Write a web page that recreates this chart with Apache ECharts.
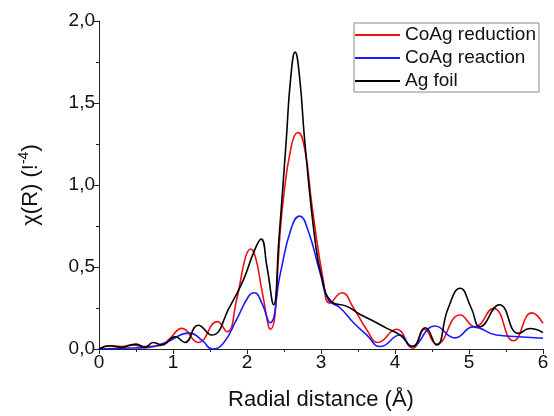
<!DOCTYPE html>
<html>
<head>
<meta charset="utf-8">
<script src="https://cdn.jsdelivr.net/npm/echarts@6/dist/echarts.min.js"></script>
<style>
  html, body { margin: 0; padding: 0; background: #fff; }
  #chart { width: 554px; height: 416px; }
</style>
</head>
<body>
<div id="chart"></div>
<script>
// [R (Å), chi(R)] pairs
const coagReduction = [
  [0, 0.0], [0.15, 0.02], [0.3, 0.015], [0.45, 0.025], [0.6, 0.015], [0.82, 0.02],
  [0.95, 0.06], [1.12, 0.126], [1.34, 0.04], [1.6, 0.167], [1.73, 0.105], [1.86, 0.3],
  [1.98, 0.56], [2.05, 0.61], [2.12, 0.55], [2.2, 0.36], [2.315, 0.12], [2.48, 0.868],
  [2.6, 1.24], [2.69, 1.32], [2.78, 1.22], [2.88, 0.868], [3.03, 0.42], [3.12, 0.28],
  [3.28, 0.343], [3.44, 0.25], [3.62, 0.116], [3.77, 0.04], [4.02, 0.12], [4.24, 0.005],
  [4.4, 0.12], [4.56, 0.03], [4.88, 0.207], [5.08, 0.136], [5.33, 0.248], [5.6, 0.05],
  [5.85, 0.22], [6.0, 0.157]
];

const coagReaction = [
  [0, 0.0], [0.3, 0.005], [0.67, 0.01], [0.9, 0.04], [1.22, 0.097], [1.4, 0.05],
  [1.53, 0.0], [1.68, 0.035], [1.86, 0.18], [2.02, 0.32], [2.1, 0.343], [2.2, 0.28],
  [2.31, 0.16], [2.45, 0.46], [2.6, 0.74], [2.71, 0.81], [2.82, 0.73], [2.99, 0.46],
  [3.1, 0.3], [3.26, 0.25], [3.44, 0.16], [3.62, 0.085], [3.8, 0.015], [4.07, 0.085],
  [4.22, 0.015], [4.54, 0.14], [4.81, 0.068], [5.06, 0.135], [5.37, 0.085], [5.67, 0.075],
  [6.0, 0.066]
];

const agFoil = [
  [0, 0.0], [0.15, 0.02], [0.3, 0.01], [0.5, 0.03], [0.62, 0.01], [0.73, 0.04],
  [0.85, 0.025], [1.03, 0.075], [1.16, 0.04], [1.34, 0.145], [1.52, 0.085], [1.77, 0.26],
  [1.95, 0.42], [2.1, 0.6], [2.19, 0.67], [2.27, 0.5], [2.36, 0.27], [2.43, 0.66],
  [2.53, 1.27], [2.59, 1.65], [2.65, 1.81], [2.71, 1.66], [2.78, 1.27], [2.92, 0.66],
  [3.01, 0.44], [3.14, 0.29], [3.35, 0.26], [3.53, 0.21], [3.68, 0.177], [3.89, 0.126],
  [4.07, 0.085], [4.24, 0.015], [4.41, 0.13], [4.56, 0.025], [4.72, 0.25], [4.88, 0.37],
  [5.03, 0.25], [5.15, 0.136], [5.41, 0.27], [5.67, 0.095], [5.82, 0.125], [6.0, 0.1]
];

const seriesNames = ['CoAg reduction', 'CoAg reaction', 'Ag foil'];
const seriesColors = ['#ee1111', '#1a1aff', '#000000'];

const chart = echarts.init(document.getElementById('chart'));

const font = 'Liberation Sans, Arial, sans-serif';
const axisColor = '#222';

const makeLine = (name, data, color) => ({
  name: name,
  type: 'line',
  data: data,
  smooth: 0.5,
  symbol: 'none',
  lineStyle: { color: color, width: 1.6 },
  itemStyle: { color: color },
});

const option = {
  animation: false,
  grid: { left: 99, right: 11, top: 21, bottom: 67 },
  legend: {
    orient: 'vertical',
    left: 354,
    top: 23,
    icon: 'rect',
    itemWidth: 45,
    itemHeight: 2,
    itemGap: 3,
    padding: [2, 3, 1, 1],
    borderColor: '#888',
    borderWidth: 1,
    textStyle: { fontFamily: font, fontSize: 19, color: '#111', lineHeight: 20 },
    data: seriesNames,
  },
  xAxis: {
    type: 'value',
    min: 0,
    max: 6,
    interval: 1,
    name: 'Radial distance (Å)',
    nameLocation: 'middle',
    nameGap: 40,
    nameTextStyle: { fontFamily: font, fontSize: 22, color: '#111' },
    axisLine: { show: true, lineStyle: { color: axisColor, width: 1 } },
    axisTick: { show: true, length: 5, lineStyle: { color: axisColor } },
    minorTick: { show: true, splitNumber: 2, length: 3, lineStyle: { color: axisColor } },
    axisLabel: { fontFamily: font, fontSize: 19, color: '#111', margin: 4 },
    splitLine: { show: false },
  },
  yAxis: {
    type: 'value',
    min: 0,
    max: 2,
    interval: 0.5,
    name: '{a|χ(R) (!}{s|-4}{a|)}',
    nameLocation: 'middle',
    nameGap: 55,
    nameTextStyle: {
      fontFamily: font,
      color: '#111',
      rich: {
        a: { fontFamily: font, fontSize: 22, color: '#111' },
        s: { fontFamily: font, fontSize: 14, color: '#111', verticalAlign: 'top', padding: [0, 0, 13, 0] },
      },
    },
    axisLine: { show: true, lineStyle: { color: axisColor, width: 1 } },
    axisTick: { show: true, length: 5, lineStyle: { color: axisColor } },
    minorTick: { show: true, splitNumber: 2, length: 3, lineStyle: { color: axisColor } },
    axisLabel: {
      fontFamily: font,
      fontSize: 19,
      color: '#111',
      margin: 4,
      formatter: (v) => v.toFixed(1).replace('.', ','),
    },
    splitLine: { show: false },
  },
  series: [
    makeLine(seriesNames[0], coagReduction, seriesColors[0]),
    makeLine(seriesNames[1], coagReaction, seriesColors[1]),
    makeLine(seriesNames[2], agFoil, seriesColors[2]),
  ],
};

chart.setOption(option);
</script>
</body>
</html>
